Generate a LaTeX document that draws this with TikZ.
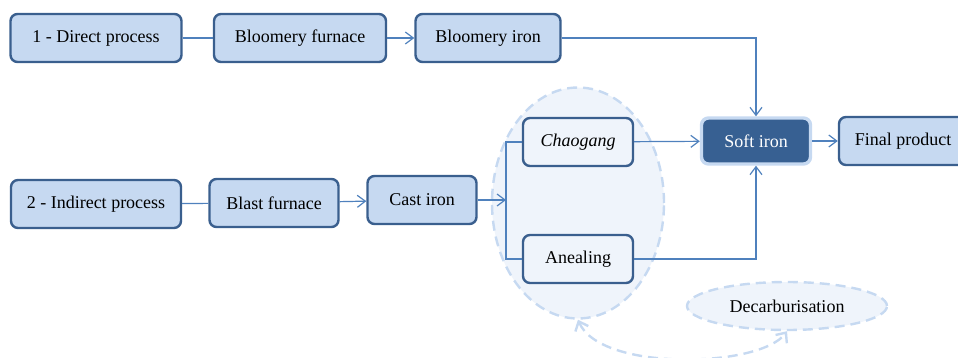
\documentclass[tikz,border=0pt]{standalone}
\usepackage{fontspec}
\setmainfont{Liberation Serif}
\usetikzlibrary{arrows.meta,shapes.geometric}
\definecolor{boxfill}{HTML}{C6D9F1}
\definecolor{boxline}{HTML}{3A5F8E}
\definecolor{linkblue}{HTML}{4F81BD}
\definecolor{palefill}{HTML}{EFF4FB}
\definecolor{paleline}{HTML}{C6D9F1}
\definecolor{softfill}{HTML}{376092}

\begin{document}
\begin{tikzpicture}[x=1pt,y=-1pt,
  box/.style={draw=boxline,line width=2.4pt,rounded corners=7pt,fill=boxfill,minimum height=48pt,inner sep=2pt,font=\fontsize{18}{21}\selectfont},
  stagebox/.style={box,fill=palefill},
  softbox/.style={box,fill=softfill,draw=paleline,line width=3.4pt,text=white},
  zone/.style={ellipse,draw=paleline,fill=palefill,line width=2.4pt,dash pattern=on 10pt off 6pt,inner sep=0pt,font=\fontsize{18}{21}\selectfont},
  link/.style={draw=linkblue,line width=1.2pt},
  arrow/.style={link,-{Straight Barb[length=8pt,width=12pt]}},
  palearrow/.style={draw=paleline,line width=2.4pt,dash pattern=on 10pt off 6pt,{Straight Barb[length=8pt,width=14pt]}-{Straight Barb[length=8pt,width=14pt]}}
]
  \useasboundingbox (0,0) rectangle (958,358);
  % regions
  \node[zone,minimum width=172pt,minimum height=231pt] (softening) at (578,203) {};
  \node[zone,minimum width=200pt,minimum height=48pt] (decarb) at (787,306) {Decarburisation};
  % direct process
  \node[box,minimum width=171pt] (direct) at (96,38) {1 - Direct process};
  \node[box,minimum width=172pt] (bloomfurnace) at (300,38) {Bloomery furnace};
  \node[box,minimum width=145pt] (bloomiron) at (488,38) {Bloomery iron};
  % indirect process
  \node[box,minimum width=170pt] (indirect) at (96,204) {2 - Indirect process};
  \node[box,minimum width=129pt] (blastfurnace) at (274,203) {Blast furnace};
  \node[box,minimum width=109pt] (castiron) at (422,200) {Cast iron};
  \node[stagebox,minimum width=110pt] (chaogang) at (578,142) {\itshape Chaogang};
  \node[stagebox,minimum width=110pt] (anealing) at (578,259) {Anealing};
  % products
  \node[softbox,minimum width=109pt,minimum height=46pt] (softiron) at (756,141) {Soft iron};
  \node[box,minimum width=128pt] (final) at (903,141) {Final product};
  \coordinate (split) at (506,200);
  \draw[link] (direct) -- (bloomfurnace);
  \draw[arrow] (bloomfurnace) -- (bloomiron);
  \draw[arrow] (bloomiron.east) -| (softiron.north);
  \draw[link] (indirect) -- (blastfurnace);
  \draw[arrow] (blastfurnace) -- (castiron);
  \draw[arrow] (castiron.east) -- (split);
  \draw[link] (chaogang.west) -| (split) |- (anealing.west);
  \draw[arrow] (chaogang) -- (softiron);
  \draw[arrow] (anealing.east) -| (softiron.south);
  \draw[arrow] (softiron) -- (final);
  \draw[palearrow] (softening.south) .. controls (600,372) and (760,368) .. (decarb.south);
\end{tikzpicture}
\end{document}
